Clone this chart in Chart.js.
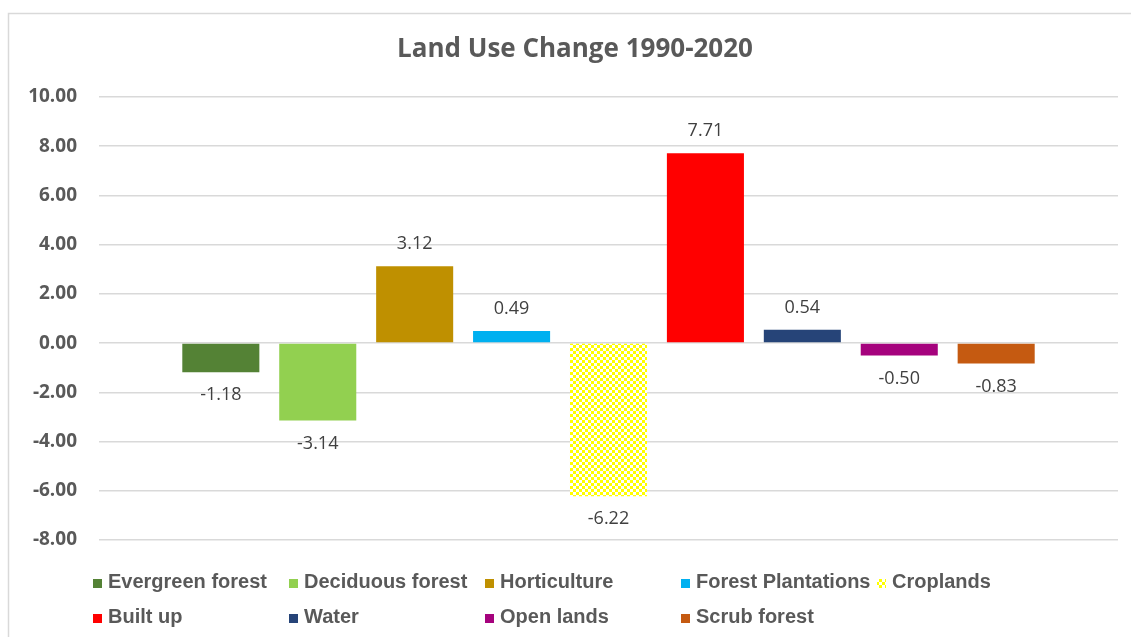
<!DOCTYPE html>
<html>
<head>
<meta charset="utf-8">
<script src="https://cdn.jsdelivr.net/npm/chart.js@4/dist/chart.umd.min.js"></script>
<style>
  html, body { margin: 0; padding: 0; background: #ffffff; }
  #wrap { width: 1131px; height: 637px; position: relative; }
</style>
</head>
<body>
<div id="wrap"><canvas id="c" width="1131" height="637"></canvas></div>
<script>
const title = 'Land Use Change 1990-2020';
const categories = [''];
const seriesNames = ['Evergreen forest', 'Deciduous forest', 'Horticulture', 'Forest Plantations', 'Croplands',
                     'Built up', 'Water', 'Open lands', 'Scrub forest'];
const seriesValues = [-1.18, -3.14, 3.12, 0.49, -6.22, 7.71, 0.54, -0.50, -0.83];
const seriesColors = ['#548235', '#92d050', '#bf9000', '#00b0f0', 'PATTERN', '#ff0000', '#264478', '#a5027d', '#c55a11'];
const yMin = -8, yMax = 10, yStep = 2;

function makeChecker() {
  const t = document.createElement('canvas');
  t.width = 6; t.height = 6;
  const g = t.getContext('2d');
  g.fillStyle = '#ffffff'; g.fillRect(0, 0, 6, 6);
  g.fillStyle = '#ffff00';
  g.fillRect(0, 0, 3, 3); g.fillRect(3, 3, 3, 3);
  return document.getElementById('c').getContext('2d').createPattern(t, 'repeat');
}
const checker = makeChecker();

const datasets = seriesNames.map((name, i) => ({
  label: name,
  data: [seriesValues[i]],
  backgroundColor: seriesColors[i] === 'PATTERN' ? checker : seriesColors[i],
  borderWidth: 0,
  categoryPercentage: 0.856,
  barPercentage: 0.795
}));

const framePlugin = {
  id: 'frame',
  beforeDraw(chart) {
    const ctx = chart.ctx;
    ctx.save();
    ctx.fillStyle = '#ffffff';
    ctx.fillRect(0, 0, chart.width, chart.height);
    ctx.strokeStyle = '#d9d9d9';
    ctx.lineWidth = 1.5;
    ctx.strokeRect(8.5, 13.5, 1300, 800);
    ctx.restore();
  },
  afterDraw(chart) {
    const ctx = chart.ctx;
    ctx.save();
    // title
    ctx.fillStyle = '#595959';
    ctx.font = 'bold 26px "Open Sans"';
    ctx.textAlign = 'center';
    ctx.textBaseline = 'middle';
    ctx.fillText(title, 575, 50);
    // legend
    ctx.font = 'bold 20px "Liberation Sans"';
    ctx.textAlign = 'left';
    chart.data.datasets.forEach((ds, i) => {
      const col = i % 5, row = Math.floor(i / 5);
      const x = 93 + col * 196;
      const y = row === 0 ? 583 : 618;
      ctx.fillStyle = ds.backgroundColor;
      ctx.fillRect(x, y - 4, 9, 9);
      ctx.fillStyle = '#595959';
      ctx.fillText(ds.label, x + 15, y - 1);
    });
    ctx.restore();
  },
  afterDatasetsDraw(chart) {
    const ctx = chart.ctx;
    ctx.save();
    ctx.font = '18px "Open Sans"';
    ctx.fillStyle = '#404040';
    ctx.textAlign = 'center';
    ctx.textBaseline = 'middle';
    chart.data.datasets.forEach((ds, i) => {
      const meta = chart.getDatasetMeta(i);
      meta.data.forEach((el, j) => {
        const v = ds.data[j];
        const y = v >= 0 ? el.y - 22 : el.y + 23;
        ctx.fillText(v.toFixed(2), el.x, y);
      });
    });
    ctx.restore();
  }
};

new Chart(document.getElementById('c'), {
  type: 'bar',
  data: { labels: categories, datasets },
  options: {
    responsive: false,
    animation: false,
    layout: { padding: { left: 0, right: 13, top: 97, bottom: 97 } },
    plugins: {
      legend: { display: false },
      title: { display: false },
      tooltip: { enabled: false }
    },
    scales: {
      x: { display: false },
      y: {
        min: yMin, max: yMax,
        afterFit(scale) { scale.width = 99; },
        ticks: {
          stepSize: yStep,
          padding: 22,
          color: '#595959',
          font: { family: 'Open Sans', size: 19, weight: 'bold' },
          callback: v => Number(v).toFixed(2)
        },
        grid: { color: '#d9d9d9', lineWidth: 1.5, drawTicks: false },
        border: { display: false }
      }
    }
  },
  plugins: [framePlugin]
});
</script>
</body>
</html>
